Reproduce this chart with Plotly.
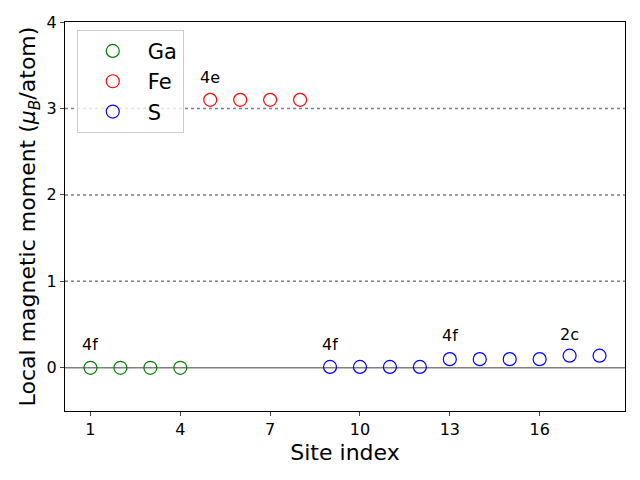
import plotly.graph_objects as go

ga_x = [1, 2, 3, 4]
ga_y = [0.0, 0.0, 0.0, 0.0]
fe_x = [5, 6, 7, 8]
fe_y = [3.1, 3.1, 3.1, 3.1]
s_x = [9, 10, 11, 12, 13, 14, 15, 16, 17, 18]
s_y = [0.01, 0.01, 0.01, 0.01, 0.1, 0.1, 0.1, 0.1, 0.14, 0.14]

labels = ["4f", "4e", "4f", "4f", "2c"]
label_x = [1, 5, 9, 13, 17]
label_y = [0.27, 3.36, 0.27, 0.37, 0.39]

x_ticks = [1, 4, 7, 10, 13, 16]
y_ticks = [0, 1, 2, 3, 4]

fig = go.Figure()
for name, xs, ys, col in [("Ga", ga_x, ga_y, "green"), ("Fe", fe_x, fe_y, "red"), ("S", s_x, s_y, "blue")]:
    fig.add_trace(go.Scatter(x=xs, y=ys, mode="markers", name=name,
                             marker=dict(symbol="circle-open", size=13, color=col, line=dict(width=1.2, color=col))))

for yv in [1, 2, 3]:
    fig.add_shape(type="line", xref="paper", x0=0, x1=1, y0=yv, y1=yv,
                  line=dict(color="gray", width=1.5, dash="dot"), layer="below")
fig.add_shape(type="line", xref="paper", x0=0, x1=1, y0=0, y1=0,
              line=dict(color="gray", width=1.5), layer="below")

for t, xv, yv in zip(labels, label_x, label_y):
    fig.add_annotation(x=xv, y=yv, text=t, showarrow=False,
                       font=dict(size=16, color="black", family="DejaVu Sans"))

fig.update_layout(
    width=640, height=480,
    margin=dict(l=65, r=15, t=22, b=69),
    paper_bgcolor="white", plot_bgcolor="white",
    font=dict(family="DejaVu Sans", color="black"),
    showlegend=True,
    legend=dict(x=0.021, y=0.98, xanchor="left", yanchor="top",
                font=dict(size=21), bgcolor="rgba(255,255,255,0.8)",
                bordercolor="#cccccc", borderwidth=1, itemwidth=60,
                tracegroupgap=0),
    xaxis=dict(range=[0.15, 18.85], tickvals=x_ticks, ticks="outside", ticklen=4,
               showgrid=False, zeroline=False, showline=True, linecolor="black", mirror=True,
               tickfont=dict(size=16), title=dict(text="Site index", font=dict(size=22), standoff=6)),
    yaxis=dict(range=[-0.5, 4], tickvals=y_ticks, ticks="outside", ticklen=4,
               showgrid=False, zeroline=False, showline=True, linecolor="black", mirror=True,
               tickfont=dict(size=16),
               title=dict(text="Local magnetic moment (<i>μ<sub>B</sub></i>/atom)", font=dict(size=22), standoff=4)),
)

fig.write_html("out.html")
